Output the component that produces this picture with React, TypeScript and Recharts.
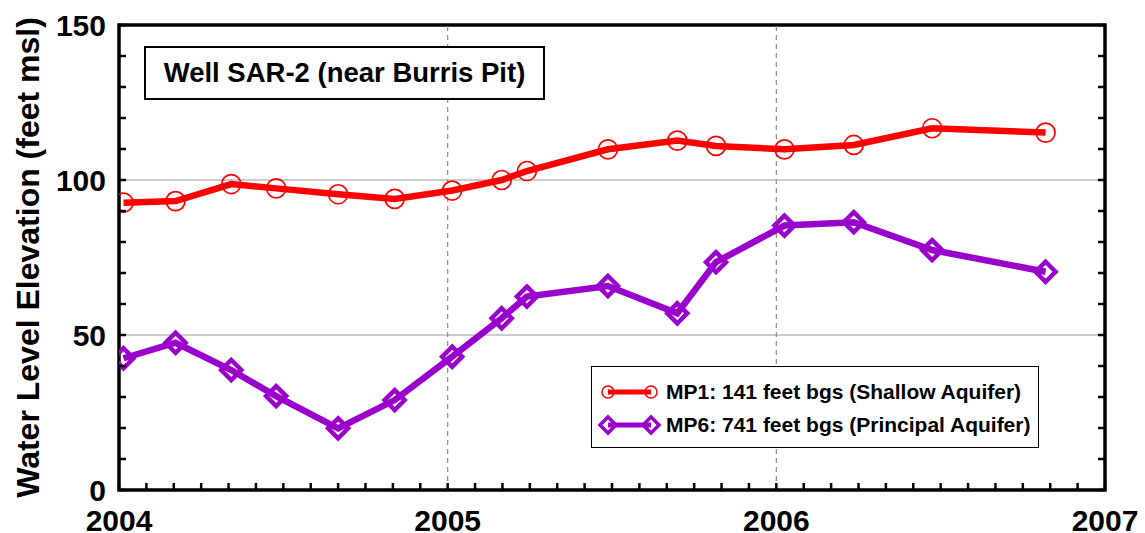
import React from 'react';
import {
  LineChart, Line, XAxis, YAxis, ReferenceLine, ReferenceArea, Label,
} from 'recharts';

const sampleDates = [
  '2004-01-06', '2004-03-04', '2004-05-05', '2004-06-24', '2004-09-01', '2004-11-03',
  '2005-01-06', '2005-03-02', '2005-03-30', '2005-06-28', '2005-09-13', '2005-10-26',
  '2006-01-10', '2006-03-28', '2006-06-23', '2006-10-27',
];
const mp1Values = [92.7, 93.2, 98.7, 97.3, 95.4, 93.9, 96.6, 100.0, 102.9, 109.9, 112.7, 111.0, 109.9, 111.3, 116.7, 115.3];
const mp6Values = [42.5, 47.5, 38.7, 30.3, 19.9, 29.0, 43.0, 55.4, 62.4, 65.8, 57.0, 73.5, 85.3, 86.4, 77.4, 70.4];

const yearLabels = [2004, 2005, 2006, 2007];
const yMajorTicks = [0, 50, 100, 150];
const yMinorStep = 10;

const MP1_NAME = 'MP1: 141 feet bgs (Shallow Aquifer)';
const MP6_NAME = 'MP6: 741 feet bgs (Principal Aquifer)';
const TITLE = 'Well SAR-2 (near Burris Pit)';
const Y_LABEL = 'Water Level Elevation (feet msl)';

const RED = '#FF0000';
const PURPLE = '#9900CC';
const FONT = 'Arial, "Liberation Sans", Helvetica, sans-serif';

const toDecimalYear = (s: string) => {
  const [y, m, d] = s.split('-').map(Number);
  const t = Date.UTC(y, m - 1, d);
  const a = Date.UTC(y, 0, 1);
  const b = Date.UTC(y + 1, 0, 1);
  return y + (t - a) / (b - a);
};

const data = sampleDates.map((s, i) => ({
  t: toDecimalYear(s),
  mp1: mp1Values[i],
  mp6: mp6Values[i],
}));

const yTicks: number[] = [];
for (let v = yMajorTicks[0]; v <= yMajorTicks[yMajorTicks.length - 1] + 1e-9; v += yMinorStep) yTicks.push(v);
const xTicks: number[] = [];
for (let y = yearLabels[0]; y < yearLabels[yearLabels.length - 1]; y++) {
  for (let m = 0; m < 12; m++) xTicks.push(y + m / 12);
}
xTicks.push(yearLabels[yearLabels.length - 1]);

const TICK_LEN = 7;
const Y_MARGIN = 13;
const X_MARGIN = 20;

const LeftTick = (props: any) => {
  const { x, y, payload } = props;
  const ax = x + Y_MARGIN;
  const v = payload.value;
  const isMajor = yMajorTicks.some((m) => Math.abs(m - v) < 1e-6);
  return (
    <g>
      <line x1={ax} x2={ax + TICK_LEN} y1={y} y2={y} stroke="#000" strokeWidth={2.5} />
      {isMajor && (
        <text x={x} y={y} dy="0.355em" textAnchor="end" fontFamily={FONT} fontWeight="bold" fontSize={30} fill="#000">
          {Math.round(v)}
        </text>
      )}
    </g>
  );
};

const RightTick = (props: any) => {
  const { x, y } = props;
  const ax = x - Y_MARGIN;
  return <line x1={ax} x2={ax - TICK_LEN} y1={y} y2={y} stroke="#000" strokeWidth={2.5} />;
};

const BottomTick = (props: any) => {
  const { x, y, payload } = props;
  const ay = y - X_MARGIN;
  const v = payload.value;
  const isYear = Math.abs(v - Math.round(v)) < 1e-6;
  return (
    <g>
      <line x1={x} x2={x} y1={ay} y2={ay - TICK_LEN} stroke="#000" strokeWidth={2.5} />
      {isYear && (
        <text x={x} y={y} dy="0.71em" textAnchor="middle" fontFamily={FONT} fontWeight="bold" fontSize={30} fill="#000">
          {Math.round(v)}
        </text>
      )}
    </g>
  );
};

const TopTick = (props: any) => {
  const { x, y } = props;
  const ay = y + X_MARGIN;
  return <line x1={x} x2={x} y1={ay} y2={ay + TICK_LEN} stroke="#000" strokeWidth={2.5} />;
};

const CircleDot = (props: any) => {
  const { cx, cy, rad = 9.5, sw = 1.7 } = props;
  if (cx == null || cy == null) return null;
  return <circle cx={cx} cy={cy} r={rad} fill="none" stroke={RED} strokeWidth={sw} />;
};

const DiamondDot = (props: any) => {
  const { cx, cy, s = 10, sw = 4.5 } = props;
  if (cx == null || cy == null) return null;
  return (
    <path
      d={`M${cx},${cy - s}L${cx + s},${cy}L${cx},${cy + s}L${cx - s},${cy}Z`}
      fill="none"
      stroke={PURPLE}
      strokeWidth={sw}
      strokeLinejoin="miter"
    />
  );
};

const LegendBox = () => {
  const rows = [
    { name: MP1_NAME, color: RED, kind: 'circle' },
    { name: MP6_NAME, color: PURPLE, kind: 'diamond' },
  ];
  return (
    <div
      style={{
        position: 'absolute',
        left: 591,
        top: 366,
        border: '1.5px solid #000',
        background: '#fff',
        width: 448,
        height: 82,
        boxSizing: 'border-box',
        padding: '8px 0 0 6px',
      }}
    >
      {rows.map((r) => (
        <div key={r.name} style={{ display: 'flex', alignItems: 'center', height: 33 }}>
          <svg width={64} height={26} style={{ display: 'block', flexShrink: 0 }}>
            <line x1={10} x2={53} y1={13} y2={13} stroke={r.color} strokeWidth={5} />
            {r.kind === 'circle' ? (
              <>
                <CircleDot cx={10} cy={13} rad={6} sw={1.5} />
                <CircleDot cx={53} cy={13} rad={6} sw={1.5} />
              </>
            ) : (
              <>
                <DiamondDot cx={10} cy={13} s={8} sw={3.5} />
                <DiamondDot cx={53} cy={13} s={8} sw={3.5} />
              </>
            )}
          </svg>
          <span
            style={{
              marginLeft: 4,
              fontFamily: FONT,
              fontWeight: 'bold',
              fontSize: 21,
              color: '#000',
              whiteSpace: 'nowrap',
            }}
          >
            {r.name}
          </span>
        </div>
      ))}
    </div>
  );
};

const YLabelContent = (props: any) => {
  const vb = props.viewBox || {};
  const cx = (vb.x ?? 0) + 28;
  const cy = (vb.y ?? 0) + (vb.height ?? 0) / 2;
  return (
    <text
      x={cx}
      y={cy}
      transform={`rotate(-90, ${cx}, ${cy})`}
      textAnchor="middle"
      dominantBaseline="central"
      fontFamily={FONT}
      fontWeight="bold"
      fontSize={32}
      fill="#000"
    >
      {Y_LABEL}
    </text>
  );
};

export default function App() {
  return (
    <div style={{ position: 'absolute', left: 0, top: 0, width: 1145, height: 533, background: '#fff' }}>
      <LineChart
        width={1145}
        height={533}
        data={data}
        margin={{ top: 0, right: 0, bottom: 0, left: 0 }}
      >
        <XAxis
          dataKey="t"
          type="number"
          domain={[yearLabels[0], yearLabels[yearLabels.length - 1]]}
          ticks={xTicks}
          interval={0}
          height={43}
          axisLine={false}
          tickLine={false}
          tickSize={0}
          tickMargin={X_MARGIN}
          tick={<BottomTick />}
          allowDataOverflow
        />
        <XAxis
          xAxisId="top"
          orientation="top"
          type="number"
          domain={[yearLabels[0], yearLabels[yearLabels.length - 1]]}
          ticks={xTicks}
          interval={0}
          height={25}
          axisLine={false}
          tickLine={false}
          tickSize={0}
          tickMargin={X_MARGIN}
          tick={<TopTick />}
          allowDataOverflow
        />
        <YAxis
          type="number"
          domain={[yMajorTicks[0], yMajorTicks[yMajorTicks.length - 1]]}
          ticks={yTicks}
          interval={0}
          width={119}
          axisLine={false}
          tickLine={false}
          tickSize={0}
          tickMargin={Y_MARGIN}
          tick={<LeftTick />}
          allowDataOverflow
        >
          <Label content={<YLabelContent />} />
        </YAxis>
        <YAxis
          yAxisId="right"
          orientation="right"
          type="number"
          domain={[yMajorTicks[0], yMajorTicks[yMajorTicks.length - 1]]}
          ticks={yTicks}
          interval={0}
          width={40}
          axisLine={false}
          tickLine={false}
          tickSize={0}
          tickMargin={Y_MARGIN}
          tick={<RightTick />}
          allowDataOverflow
        />
        <ReferenceLine y={50} stroke="#9a9a9a" strokeWidth={1.2} />
        <ReferenceLine y={100} stroke="#9a9a9a" strokeWidth={1.2} />
        <ReferenceLine x={2005} stroke="#8a8a8a" strokeWidth={1.2} strokeDasharray="5 4" />
        <ReferenceLine x={2006} stroke="#8a8a8a" strokeWidth={1.2} strokeDasharray="5 4" />
        <Line
          dataKey="mp1"
          name={MP1_NAME}
          type="linear"
          stroke={RED}
          strokeWidth={6.5}
          dot={<CircleDot />}
          activeDot={false}
          isAnimationActive={false}
        />
        <Line
          dataKey="mp6"
          name={MP6_NAME}
          type="linear"
          stroke={PURPLE}
          strokeWidth={6.5}
          dot={<DiamondDot />}
          activeDot={false}
          isAnimationActive={false}
        />
        <ReferenceArea
          x1={yearLabels[0]}
          x2={yearLabels[yearLabels.length - 1]}
          y1={yMajorTicks[0]}
          y2={yMajorTicks[yMajorTicks.length - 1]}
          fill="none"
          fillOpacity={0}
          stroke="#000"
          strokeWidth={3.5}
          strokeOpacity={1}
        />
      </LineChart>
      <LegendBox />
      <div
        style={{
          position: 'absolute',
          left: 144,
          top: 46,
          width: 401,
          height: 54,
          boxSizing: 'border-box',
          border: '2px solid #000',
          background: '#fff',
          display: 'flex',
          alignItems: 'center',
          justifyContent: 'center',
          fontFamily: FONT,
          fontWeight: 'bold',
          fontSize: 27.5,
          color: '#000',
          whiteSpace: 'nowrap',
        }}
      >
        {TITLE}
      </div>
    </div>
  );
}
